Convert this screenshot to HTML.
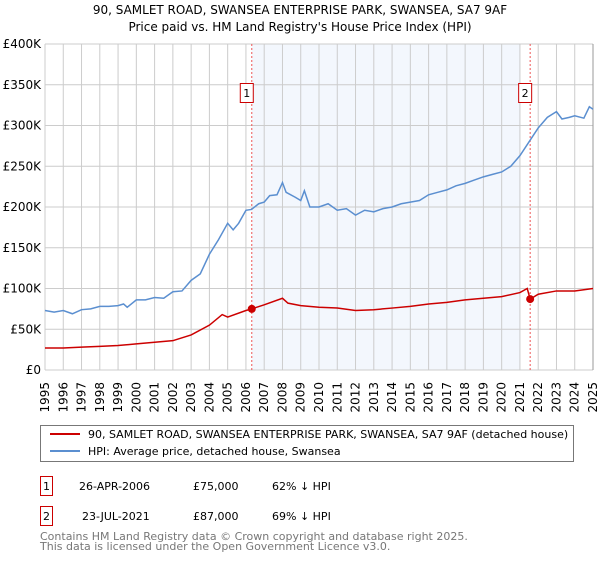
<!DOCTYPE html>
<html><head><meta charset="utf-8"><style>
body{margin:0;background:#fff;font-family:"DejaVu Sans","Liberation Sans",sans-serif;}
svg text{font-family:"DejaVu Sans","Liberation Sans",sans-serif;}
</style></head><body>
<svg id="chart" width="600" height="560" xmlns="http://www.w3.org/2000/svg">
<text x="300" y="14" text-anchor="middle" font-size="12" fill="#000">90, SAMLET ROAD, SWANSEA ENTERPRISE PARK, SWANSEA, SA7 9AF</text>
<text x="300" y="31" text-anchor="middle" font-size="12" fill="#000">Price paid vs. HM Land Registry's House Price Index (HPI)</text>
<g id="plot"></g>
<g>
<rect x="40.5" y="425.5" width="533" height="36" fill="#fff" stroke="#777"/>
<line x1="50" y1="434" x2="80" y2="434" stroke="#cc0000" stroke-width="2"/>
<text x="88" y="438" font-size="11">90, SAMLET ROAD, SWANSEA ENTERPRISE PARK, SWANSEA, SA7 9AF (detached house)</text>
<line x1="50" y1="451" x2="80" y2="451" stroke="#5b8fd0" stroke-width="2"/>
<text x="88" y="455" font-size="11">HPI: Average price, detached house, Swansea</text>
</g>
<g font-size="11">
<rect x="40.5" y="476.5" width="12" height="19" fill="#fff" stroke="#cc0000"/>
<text x="46.5" y="490" text-anchor="middle">1</text>
<text x="79" y="490">26-APR-2006</text><text x="193" y="490">£75,000</text><text x="272" y="490">62% ↓ HPI</text>
<rect x="40.5" y="506.5" width="12" height="19" fill="#fff" stroke="#cc0000"/>
<text x="46.5" y="520" text-anchor="middle">2</text>
<text x="82" y="520">23-JUL-2021</text><text x="193" y="520">£87,000</text><text x="272" y="520">69% ↓ HPI</text>
</g>
<g font-size="11" fill="#777">
<text x="40" y="540">Contains HM Land Registry data © Crown copyright and database right 2025.</text>
<text x="40" y="550">This data is licensed under the Open Government Licence v3.0.</text>
</g>
</svg>
<script>
const hpiYears=[1995,1995.5,1996,1996.5,1997,1997.5,1998,1998.5,1999,1999.3,1999.5,2000,2000.5,2001,2001.5,2002,2002.5,2003,2003.5,2004,2004.5,2005,2005.3,2005.6,2006,2006.3,2006.7,2007,2007.3,2007.7,2008,2008.2,2008.7,2009,2009.2,2009.5,2010,2010.5,2011,2011.5,2012,2012.5,2013,2013.5,2014,2014.5,2015,2015.5,2016,2016.5,2017,2017.5,2018,2018.5,2019,2019.5,2020,2020.5,2021,2021.5,2022,2022.5,2023,2023.3,2023.7,2024,2024.5,2024.8,2025];
const hpiValues=[73,71,73,69,74,75,78,78,79,81,77,86,86,89,88,96,97,110,118,142,160,180,172,180,196,197,204,206,214,215,230,218,212,208,220,200,200,204,196,198,190,196,194,198,200,204,206,208,215,218,221,226,229,233,237,240,243,250,263,280,297,310,317,308,310,312,309,323,320];
const priceYears=[1995,1996,1997,1998,1999,2000,2001,2002,2003,2004,2004.7,2005,2006,2006.32,2007,2008,2008.3,2009,2010,2011,2012,2013,2014,2015,2016,2017,2018,2019,2020,2021,2021.4,2021.56,2022,2023,2024,2025];
const priceValues=[27,27,28,29,30,32,34,36,43,55,68,65,73,75,80,88,82,79,77,76,73,74,76,78,81,83,86,88,90,95,100,87,93,97,97,100];
const yTicks=[0,50,100,150,200,250,300,350,400];
const yTickLabels=["£0","£50K","£100K","£150K","£200K","£250K","£300K","£350K","£400K"];
const saleYears=[2006.32,2021.56];
const saleValues=[75,87];
const saleLabels=["1","2"];
const X0=45,X1=593,Y0=370,Y1=44;
const xs=y=>X0+(y-1995)/30*(X1-X0);
const ys=v=>Y0-v/400*(Y0-Y1);
const NS="http://www.w3.org/2000/svg";
const g=document.getElementById('plot');
function mk(t,a){const e=document.createElementNS(NS,t);for(const k in a)e.setAttribute(k,a[k]);g.appendChild(e);return e;}
let sh=mk('rect',{x:xs(2006.32),y:Y1,width:xs(2021.0)-xs(2006.32),height:Y0-Y1,fill:'#f3f7fd'});


for(let yr=1995;yr<=2025;yr++){
 const l=mk('line',{x1:xs(yr),x2:xs(yr),y1:Y1,y2:Y0,stroke:'#cccccc'});
 
 
 const t=mk('text',{x:xs(yr)+4,y:382,'font-size':12,'text-anchor':'end',transform:`rotate(-90 ${xs(yr)+4} 382)`});
 
 
 t.textContent=yr;
}
yTicks.forEach((v,i)=>{
 const l=mk('line',{x1:X0,x2:X1,y1:ys(v),y2:ys(v),stroke:'#cccccc'});
 
 
 const t=mk('text',{x:41,y:ys(v)+4,'font-size':12,'text-anchor':'end'});
 
 
 t.textContent=yTickLabels[i];
});
const edge=mk('line',{x1:X1,x2:X1,y1:Y1,y2:Y0,stroke:'#999'});


saleYears.forEach((yr,i)=>{
 const l=mk('line',{x1:xs(yr),x2:xs(yr),y1:Y1,y2:Y0,stroke:'#ee5555','stroke-dasharray':'2,2'});
 
 
});
const hp=mk('polyline',{points:hpiYears.map((y,i)=>xs(y)+','+ys(hpiValues[i])).join(' '),fill:'none',stroke:'#5b8fd0','stroke-width':1.5});


const pp=mk('polyline',{points:priceYears.map((y,i)=>xs(y)+','+ys(priceValues[i])).join(' '),fill:'none',stroke:'#cc0000','stroke-width':1.5});


saleYears.forEach((yr,i)=>{
 const c=mk('circle',{cx:xs(yr),cy:ys(saleValues[i]),r:4,fill:'#cc0000'});
 
 
 const r=mk('rect',{x:xs(yr)-11.5,y:83.5,width:13,height:19,fill:'#fff',stroke:'#cc0000'});
 
 
 const t=mk('text',{x:xs(yr)-5,y:97,'font-size':11,'text-anchor':'middle'});
 
 
 t.textContent=saleLabels[i];
});
</script>
</body></html>
